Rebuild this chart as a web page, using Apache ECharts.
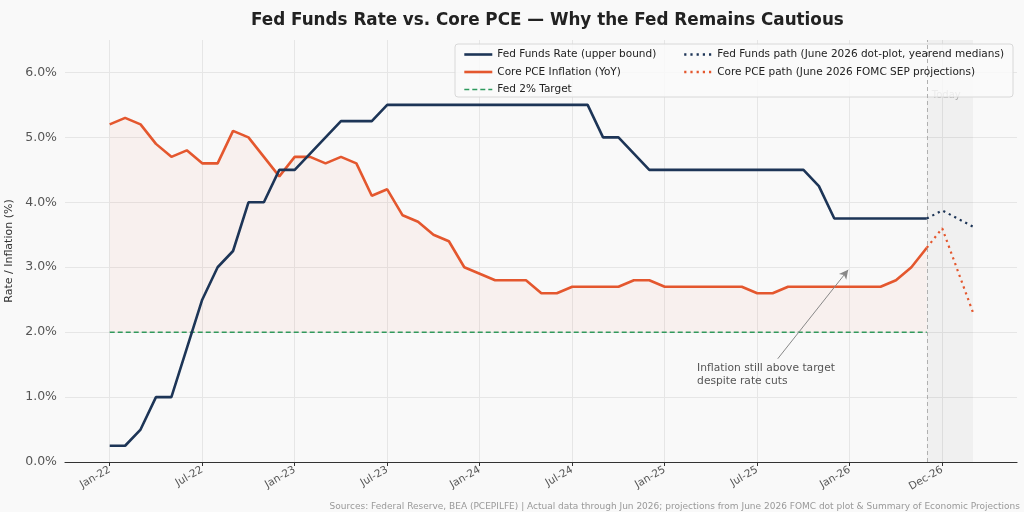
<!DOCTYPE html>
<html><head><meta charset="utf-8">
<script src="https://cdn.jsdelivr.net/npm/echarts@6/dist/echarts.min.js"></script>
<style>html,body{margin:0;padding:0;background:#f9f9f9}#c{width:1024px;height:512px}</style>
</head><body><div id="c"></div>
<script>
const months = ['Jan-22','Feb-22','Mar-22','Apr-22','May-22','Jun-22','Jul-22','Aug-22','Sep-22','Oct-22','Nov-22','Dec-22',
  'Jan-23','Feb-23','Mar-23','Apr-23','May-23','Jun-23','Jul-23','Aug-23','Sep-23','Oct-23','Nov-23','Dec-23',
  'Jan-24','Feb-24','Mar-24','Apr-24','May-24','Jun-24','Jul-24','Aug-24','Sep-24','Oct-24','Nov-24','Dec-24',
  'Jan-25','Feb-25','Mar-25','Apr-25','May-25','Jun-25','Jul-25','Aug-25','Sep-25','Oct-25','Nov-25','Dec-25',
  'Jan-26','Feb-26','Mar-26','Apr-26','May-26','Jun-26','Jul-26','Aug-26','Sep-26'];
const fedFunds = [0.25,0.25,0.5,1.0,1.0,1.75,2.5,3.0,3.25,4.0,4.0,4.5,
  4.5,4.75,5.0,5.25,5.25,5.25,5.5,5.5,5.5,5.5,5.5,5.5,
  5.5,5.5,5.5,5.5,5.5,5.5,5.5,5.5,5.0,5.0,4.75,4.5,
  4.5,4.5,4.5,4.5,4.5,4.5,4.5,4.5,4.5,4.5,4.25,3.75,
  3.75,3.75,3.75,3.75,3.75,3.75];
const corePCE = [5.2,5.3,5.2,4.9,4.7,4.8,4.6,4.6,5.1,5.0,4.7,4.4,
  4.7,4.7,4.6,4.7,4.6,4.1,4.2,3.8,3.7,3.5,3.4,3.0,
  2.9,2.8,2.8,2.8,2.6,2.6,2.7,2.7,2.7,2.7,2.8,2.8,
  2.7,2.7,2.7,2.7,2.7,2.7,2.6,2.6,2.7,2.7,2.7,2.7,
  2.7,2.7,2.7,2.8,3.0,3.3];
const projMonths = ['Jun-26','Jul-26','Sep-26'];
const fedPath = [3.75,3.875,3.625];
const pcePath = [3.3,3.6,2.3];
const target = 2.0;
const targetSpan = ['Jan-22','Jun-26'];
const todayBand = ['Jun-26','Sep-26'];
const xTickMonths = ['Jan-22','Jul-22','Jan-23','Jul-23','Jan-24','Jul-24','Jan-25','Jul-25','Jan-26','Jul-26'];
const xTickLabels = ['Jan-22','Jul-22','Jan-23','Jul-23','Jan-24','Jul-24','Jan-25','Jul-25','Jan-26','Dec-26'];
const yTicks = [0,1,2,3,4,5,6];

const idx = m => months.indexOf(m);
const tickIdx = xTickMonths.map(idx);
const NAVY = '#1d3557', ORANGE = '#e4572e', GREEN = '#2e9a5e';
const FONT = 'DejaVu Sans';

const chart = echarts.init(document.getElementById('c'), null, {renderer:'canvas'});
const actualFed = fedFunds.map((v,i)=>[i,v]);
const actualPce = corePCE.map((v,i)=>[i,v]);
const legendCommon = {orient:'vertical', top:49, padding:0, itemWidth:28, itemHeight:10, itemGap:6.5, z:10,
  itemStyle:{opacity:0}, textStyle:{fontFamily:FONT, fontSize:10.5, color:'#222'}};

chart.setOption({
  backgroundColor:'#f9f9f9',
  animation:false,
  textStyle:{fontFamily:FONT},
  title:{text:'Fed Funds Rate vs. Core PCE \u2014 Why the Fed Remains Cautious', left:246, top:7,
    textStyle:{fontFamily:FONT, fontSize:16.8, fontWeight:'bold', color:'#222'}},
  grid:{left:65, right:7, top:40, bottom:50, containLabel:false, outerBoundsMode:'none'},
  legend:[
    Object.assign({left:463, data:[
      {name:'Fed Funds Rate (upper bound)', lineStyle:{width:2.6}},
      {name:'Core PCE Inflation (YoY)', lineStyle:{width:2.6}},
      {name:'Fed 2% Target', lineStyle:{width:1.6}}]}, legendCommon),
    Object.assign({left:683, data:[
      {name:'Fed Funds path (June 2026 dot-plot, yearend medians)', lineStyle:{width:2.4}},
      {name:'Core PCE path (June 2026 FOMC SEP projections)', lineStyle:{width:2.4}}]}, legendCommon)
  ],
  xAxis:{type:'value', min:-2.9, max:58.85,
    axisLine:{lineStyle:{color:'#333', width:1.2}},
    axisTick:{customValues:tickIdx, length:4, lineStyle:{color:'#333'}},
    axisLabel:{customValues:tickIdx, formatter:v=>xTickLabels[tickIdx.indexOf(v)], rotate:30, fontSize:10.5, color:'#555', margin:7, fontFamily:FONT},
    splitLine:{show:true, lineStyle:{color:'#e6e6e6', width:1}}},
  yAxis:{type:'value', min:0, max:6.5,
    name:'Rate / Inflation (%)', nameLocation:'middle', nameGap:46,
    nameTextStyle:{fontSize:11, color:'#333', fontFamily:FONT},
    axisLine:{show:false},
    axisTick:{show:false, customValues:yTicks},
    axisLabel:{customValues:yTicks, formatter:v=>v.toFixed(1)+'%', fontSize:12.5, color:'#555', margin:8, fontFamily:FONT},
    splitLine:{show:true, lineStyle:{color:'#e6e6e6', width:1}}},
  series:[
    {name:'Fed 2% Target', type:'line', symbol:'none', z:3,
     data:[[idx(targetSpan[0]),target],[idx(targetSpan[1]),target]],
     lineStyle:{color:GREEN, width:1.5, type:[5,3]}, itemStyle:{color:GREEN},
     markArea:{silent:true, itemStyle:{color:'rgba(0,0,0,0.035)'},
       data:[[{xAxis:idx(todayBand[0])},{xAxis:idx(todayBand[1])}]]},
     markLine:{silent:true, symbol:'none', label:{show:false},
       lineStyle:{color:'#b0b0b0', width:1, type:[4,3]},
       data:[{xAxis:idx(todayBand[0])}]}},
    {name:'Core PCE Inflation (YoY)', type:'line', symbol:'none', z:4, data:actualPce,
     lineStyle:{color:ORANGE, width:2.6}, itemStyle:{color:ORANGE},
     areaStyle:{origin:target, color:'rgba(228,87,46,0.08)'}},
    {name:'Fed Funds Rate (upper bound)', type:'line', symbol:'none', z:5, data:actualFed,
     lineStyle:{color:NAVY, width:2.6}, itemStyle:{color:NAVY},
     markLine:{silent:true, symbol:['none','arrow'], symbolSize:[7,9], label:{show:false},
       lineStyle:{color:'#888', width:1, type:'solid'},
       data:[[{coord:[43.33,1.59]},{coord:[47.9,2.96]}]]}},
    {name:'Fed Funds path (June 2026 dot-plot, yearend medians)', type:'line', symbol:'none', z:5,
     data:projMonths.map((m,i)=>[idx(m),fedPath[i]]),
     lineStyle:{color:NAVY, width:2.2, type:[2.2,4]}, itemStyle:{color:NAVY}},
    {name:'Core PCE path (June 2026 FOMC SEP projections)', type:'line', symbol:'none', z:5,
     data:projMonths.map((m,i)=>[idx(m),pcePath[i]]),
     lineStyle:{color:ORANGE, width:2.2, type:[2.2,4]}, itemStyle:{color:ORANGE}}
  ]
});

const p = (x,y)=>chart.convertToPixel({gridIndex:0},[x,y]);
const todayPt = p(idx(todayBand[0]), 5.65);
const annPt = p(38.1, 1.45);
chart.setOption({graphic:[
  {type:'text', z:2, left:todayPt[0]+5, top:todayPt[1]-5,
   style:{text:'Today', fill:'#aaa', font:'10px "DejaVu Sans"'}},
  {type:'rect', z:3, shape:{x:455, y:44, width:558, height:53, r:3},
   style:{fill:'rgba(250,250,250,0.82)', stroke:'#d8d8d8', lineWidth:1}},
  {type:'text', z:6, left:annPt[0], top:annPt[1]-6,
   style:{text:'Inflation still above target\ndespite rate cuts', fill:'#555', font:'10.7px "DejaVu Sans"', lineHeight:12.7}},
  {type:'text', z:6, right:4, bottom:1,
   style:{text:'Sources: Federal Reserve, BEA (PCEPILFE) | Actual data through Jun 2026; projections from June 2026 FOMC dot plot & Summary of Economic Projections', fill:'#999', font:'9px "DejaVu Sans"'}}
]});
</script></body></html>
